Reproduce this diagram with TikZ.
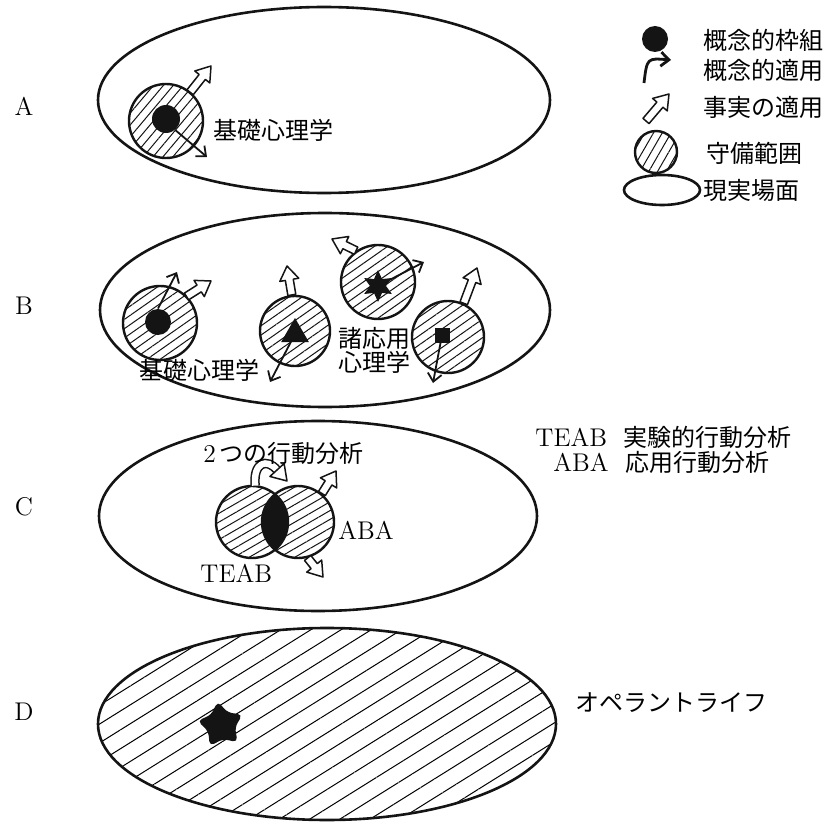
\documentclass[tikz,border=0pt]{standalone}
\usepackage{fontspec}
\newfontfamily\jpfont{Noto Sans CJK JP}
\usetikzlibrary{arrows.meta,positioning,calc,shapes.geometric,patterns.meta}
\definecolor{ol-ink}{HTML}{141414}

\begin{document}
\begin{tikzpicture}[
  x=0.5pt,y=-0.5pt,font=\fontsize{12.8}{13}\selectfont,
  field/.style={ellipse,draw=ol-ink,line width=1.3pt,inner sep=0pt},
  coverage/.style={circle,draw=ol-ink,line width=1.2pt,minimum size=37pt,inner sep=0pt,
                   pattern={Lines[angle=#1,distance=3.8pt,line width=0.5pt]},pattern color=ol-ink},
  coverage/.default=45,
  core/.style={circle,fill=ol-ink,minimum size=13pt,inner sep=0pt},
  jp/.style={font=\jpfont\fontsize{12}{12}\selectfont,inner sep=0pt},
  concept/.style={-{Straight Barb[length=4pt,width=7pt]},ol-ink,line width=0.9pt},
  fact/.style={draw=ol-ink,line width=0.75pt,fill=white,line join=round,
    to path={($(\tikztostart)!2pt!90:(\tikztotarget)$)
      -- ($(\tikztotarget)!7pt!(\tikztostart)!2pt!90:(\tikztotarget)$)
      -- ($(\tikztotarget)!7pt!(\tikztostart)!4.8pt!90:(\tikztotarget)$)
      -- (\tikztotarget)
      -- ($(\tikztotarget)!7pt!(\tikztostart)!4.8pt!-90:(\tikztotarget)$)
      -- ($(\tikztotarget)!7pt!(\tikztostart)!2pt!-90:(\tikztotarget)$)
      -- ($(\tikztostart)!2pt!-90:(\tikztotarget)$) -- cycle}},
  facthead/.style={draw=ol-ink,line width=0.75pt,fill=white,line join=round,
    to path={($(\tikztostart)!4.8pt!90:(\tikztotarget)$) -- (\tikztotarget)
      -- ($(\tikztostart)!4.8pt!-90:(\tikztotarget)$) -- cycle}}
]
\useasboundingbox (0,0) rectangle (831,824);

% legend
\node[core] (legcore) at (655,39) {};
\node[jp,anchor=west] (legcoret) at (703,40) {概念的枠組};
\coordinate (legca) at (644,83);
\coordinate (legcb) at (671,60);
\draw[concept,line width=1.4pt] (legca) .. controls (647,58) .. (legcb);
\node[jp,anchor=west] (legconcept) at (703,70) {概念的適用};
\coordinate (legfa) at (646,121);
\coordinate (legfb) at (669,94);
\draw[fact] (legfa) to (legfb);
\node[jp,anchor=west] (legfact) at (703,107) {事実の適用};
\node[coverage=60,minimum size=21pt] (legcover) at (656,152) {};
\node[jp,anchor=west] (legcovert) at (706,153) {守備範囲};
\node[field,minimum width=38pt,minimum height=15pt] (legfield) at (662,190) {};
\node[jp,anchor=west] (legfieldt) at (703,190) {現実場面};

% A
\node (labA) at (24,106) {A};
\node[field,minimum width=226pt,minimum height=93pt] (fieldA) at (324,100) {};
\node[coverage=50] (coverA) at (166,121) {};
\node[core,minimum size=14pt] (coreA) at (166,119) {};
\coordinate (factA) at (211,66);
\coordinate (conA) at (207,157);
\draw[fact] (coverA.50) to (factA);
\draw[concept] (coreA.-50) -- (conA);
\node[jp,anchor=west] (textA) at (213,130) {基礎心理学};

% B
\node (labB) at (24,306) {B};
\node[field,minimum width=225pt,minimum height=97pt] (fieldB) at (325,310) {};
\node[coverage=35] (coverB1) at (160,323) {};
\node[core] (coreB1) at (158,322) {};
\node[coverage=35,minimum size=35pt] (coverB2) at (295,331) {};
\node[regular polygon,regular polygon sides=3,fill=ol-ink,minimum size=16pt,inner sep=0pt] (coreB2) at (295,334) {};
\node[coverage=35] (coverB3) at (378,282) {};
\node[star,star points=6,star point ratio=2,fill=ol-ink,minimum size=16pt,inner sep=0pt] (coreB3) at (378,286) {};
\node[coverage=35,minimum size=36pt] (coverB4) at (448,337) {};
\node[rectangle,fill=ol-ink,minimum size=7.5pt,inner sep=0pt] (coreB4) at (442,335) {};
\coordinate (conB1) at (177,272);
\coordinate (factB1) at (211,281);
\coordinate (factB2) at (287,266);
\coordinate (conB2) at (270,382);
\coordinate (factB3) at (332,239);
\coordinate (conB3) at (424,262);
\coordinate (factB4) at (477,268);
\coordinate (conB4) at (433,383);
\draw[concept] (coreB1.north) -- (conB1);
\draw[fact] (coverB1.45) to (factB1);
\draw[fact] (coverB2.95) to (factB2);
\draw[concept] (coreB2.center) -- (conB2);
\draw[fact] (coverB3.125) to (factB3);
\draw[concept] (coreB3.center) -- (conB3);
\draw[fact] (coverB4.65) to (factB4);
\draw[concept] (coreB4.center) -- (conB4);
\node[jp] (textB1) at (199,370) {基礎心理学};
\node[jp,align=left,anchor=west] (textB2) at (338,350) {諸応用\\心理学};

% C
\node (labC) at (24,507) {C};
\node[field,minimum width=219pt,minimum height=95pt] (fieldC) at (318,516) {};
\node[coverage=30,minimum size=36pt] (teab) at (252,522) {};
\node[coverage=30,minimum size=36pt] (aba) at (298,522) {};
\begin{scope}
  \clip (252,522) circle (18pt);
  \fill[ol-ink] (298,522) circle (18pt);
\end{scope}
\coordinate (arcC) at (277,470);
\coordinate (factC1) at (287,481);
\coordinate (factC2) at (336,471);
\coordinate (factC3) at (323,577);
\draw[ol-ink,line width=0.75pt,double=white,double distance=3.2pt] (teab.85) .. controls (253,462) and (267,458) .. (arcC);
\draw[facthead] (arcC) to (factC1);
\draw[fact] (aba.50) to (factC2);
\draw[fact] (aba.-75) to (factC3);
\node[jp,anchor=west] (textC1) at (203,453) {{\rmfamily\fontsize{12.8}{13}\selectfont 2}\,つの行動分析};
\node[anchor=west,inner sep=0pt] (textC2) at (338,530) {ABA};
\node[anchor=west,inner sep=0pt] (textC3) at (200,573) {TEAB};
\node[anchor=west,inner sep=0pt] (noteT) at (535,437) {TEAB\ \ {\jpfont\fontsize{12}{12}\selectfont 実験的行動分析}};
\node[anchor=west,inner sep=0pt] (noteA) at (553,462) {ABA\ \ {\jpfont\fontsize{12}{12}\selectfont 応用行動分析}};

% D
\node (labD) at (24,712) {D};
\node[field,minimum width=229pt,minimum height=96pt,
      pattern={Lines[angle=32,distance=8pt,line width=0.5pt]}] (fieldD) at (327,724) {};
\node[star,star points=5,star point ratio=1.7,fill=ol-ink,minimum size=24pt,inner sep=0pt,
      rounded corners=2.5pt,rotate=8] (blobD) at (221,725) {};
\node[jp,anchor=west] (textD) at (575,703) {オペラントライフ};

\end{tikzpicture}
\end{document}
